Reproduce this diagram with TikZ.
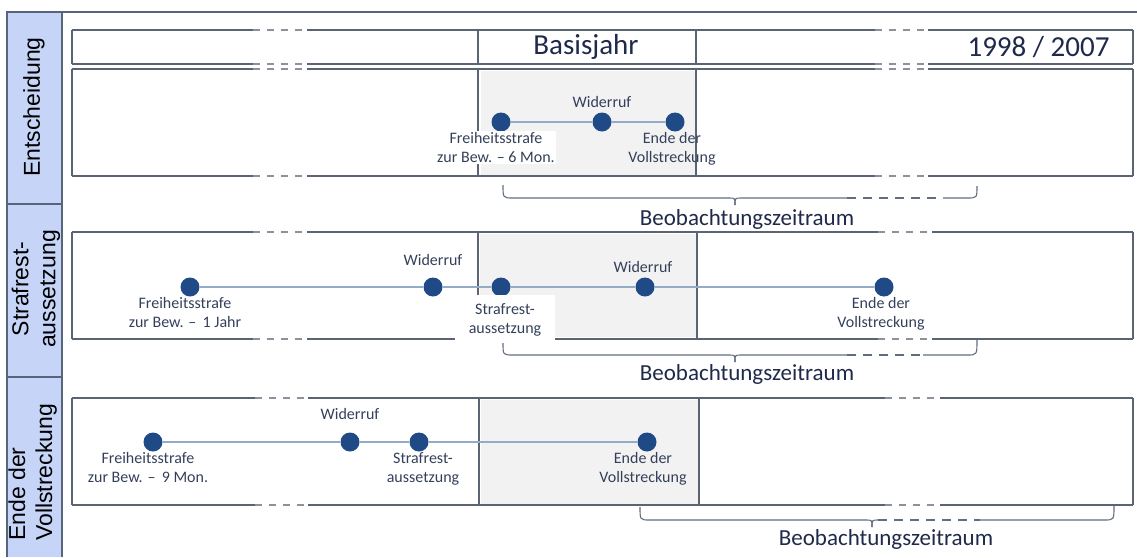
\documentclass[tikz,border=0pt]{standalone}
\usepackage{fontspec}
\setmainfont{Carlito}
\newfontfamily\arialf{Liberation Sans}
\definecolor{boxc}{HTML}{5A6472}
\definecolor{colfill}{HTML}{C6D4F7}
\definecolor{colline}{HTML}{56657A}
\definecolor{dotc}{HTML}{1F4A86}
\definecolor{connc}{HTML}{93ABC6}
\definecolor{labc}{HTML}{34405A}
\definecolor{headc}{HTML}{1F2A4A}
\definecolor{shadec}{HTML}{F2F2F2}
\definecolor{bracec}{HTML}{5F6D80}
\newcommand\obsbrace[8]{%
  \draw[bracel] (#1,#2) .. controls (#1,#3) .. (#1+10,#3) -- (#4-6,#3) .. controls (#4,#3) .. (#4,#3+7);
  \draw[bracel] (#4,#3+7) .. controls (#4,#3) .. (#4+6,#3) -- (#5,#3);
  \draw[bracel,dash pattern=on 9pt off 7pt] (#5,#3) -- (#6,#3);
  \draw[bracel] (#6,#3) -- (#7-10,#3) .. controls (#7,#3) .. (#7,#8);
}
\newcommand\gapline[5]{%
  \draw[boxl] (72,#1) -- (#2,#1);
  \draw[gapl] (#2,#1) -- (#3,#1);
  \draw[boxl] (#3,#1) -- (#4,#1);
  \draw[gapl] (#4,#1) -- (#5,#1);
  \draw[boxl] (#5,#1) -- (1133,#1);
}
\begin{document}
\begin{tikzpicture}[x=1pt,y=-1pt,
  boxl/.style={draw=boxc,line width=1.4pt},
  gapl/.style={draw=boxc!70,line width=1.4pt,dash pattern=on 7pt off 7pt},
  bracel/.style={draw=bracec,line width=1.1pt},
  dot/.style={circle,fill=dotc,minimum size=19pt,inner sep=0pt},
  conn/.style={draw=connc,line width=1.5pt},
  lab/.style={text=labc,font=\fontsize{16}{19}\selectfont,align=center,inner sep=1.5pt},
  labw/.style={lab,fill=white},
  obs/.style={text=headc,font=\fontsize{23}{26}\selectfont,inner sep=0pt},
  coltxt/.style={text=black,font=\arialf\fontsize{23}{27}\selectfont,rotate=90,inner sep=0pt}
]
\useasboundingbox (0,0) rectangle (1137,557);
% left column
\fill[colfill] (7,12) rectangle (62,557);
\draw[draw=colline,line width=1.5pt] (7,557) -- (7,12) -- (1137,12);
\draw[draw=colline,line width=1.5pt] (62,12) -- (62,557);
\draw[draw=colline,line width=1.5pt] (7,204) -- (62,204);
\draw[draw=colline,line width=1.5pt] (7,377) -- (62,377);
\node[coltxt] (c1) at (34,107) {Entscheidung};
\node[coltxt,align=center] (c2) at (36,289) {Strafrest-\\aussetzung};
\node[coltxt,align=left,anchor=south west] (c3) at (57,541) {Ende der\\Vollstreckung};

% shaded areas
\fill[shadec] (481,71) rectangle (695,175);
\fill[shadec] (480,234) rectangle (696,337);
\fill[shadec] (481,400) rectangle (698,504);

% row 1 header
\gapline{30}{253}{307}{875}{928}
\gapline{64}{253}{307}{875}{928}
\draw[boxl] (72,30) -- (72,64);
\draw[boxl] (1133,30) -- (1133,64);
\draw[boxl] (478,30) -- (478,64);
\draw[boxl] (696,30) -- (696,64);
\node[text=headc,font=\fontsize{29}{32}\selectfont] (basis) at (586,47) {Basisjahr};
\node[text=headc,font=\fontsize{29}{32}\selectfont,anchor=east] (years) at (1113,47) {1998 / 2007};

% row 1 box
\gapline{69}{253}{307}{875}{928}
\gapline{176}{253}{307}{875}{928}
\draw[boxl] (72,69) -- (72,176);
\draw[boxl] (1133,69) -- (1133,176);
\draw[boxl] (478,69) -- (478,176);
\draw[boxl] (696,69) -- (696,176);

% row 2 box
\gapline{232}{253}{307}{878}{932}
\gapline{339}{253}{307}{878}{932}
\draw[boxl] (72,232) -- (72,339);
\draw[boxl] (1133,232) -- (1133,339);
\draw[boxl] (478,232) -- (478,339);
\draw[boxl] (697,232) -- (697,339);

% row 3 box
\gapline{398}{255}{308}{885}{940}
\gapline{505}{255}{308}{885}{940}
\draw[boxl] (72,398) -- (72,505);
\draw[boxl] (1133,398) -- (1133,505);
\draw[boxl] (479,398) -- (479,505);
\draw[boxl] (699,398) -- (699,506);

% row 1 timeline
\node[dot] (a1) at (501,122) {};
\node[dot] (a2) at (602,122) {};
\node[dot] (a3) at (675,122) {};
\draw[conn] (a1) -- (a2) -- (a3);
\node[labw,anchor=north] (a1l) at (496,131) {Freiheitsstrafe\\zur Bew. -- 6 Mon.};
\node[lab,anchor=base] (a2l) at (602,107) {Widerruf};
\node[lab,anchor=north] (a3l) at (672,131) {Ende der\\Vollstreckung};

% row 2 timeline
\node[dot] (b1) at (190,287) {};
\node[dot] (b2) at (433,287) {};
\node[dot] (b3) at (501,287) {};
\node[dot] (b4) at (645,287) {};
\node[dot] (b5) at (884,287) {};
\draw[conn] (b1) -- (b2) -- (b3) -- (b4) -- (b5);
\node[lab,anchor=north] (b1l) at (185,296) {Freiheitsstrafe\\zur Bew. --\, 1 Jahr};
\node[lab,anchor=base] (b2l) at (433,265) {Widerruf};
\node[labw,anchor=north,minimum width=100pt,minimum height=50pt,inner sep=4pt] (b3l) at (505,295) {Strafrest-\\aussetzung};
\node[lab,anchor=base] (b4l) at (643,272) {Widerruf};
\node[lab,anchor=north] (b5l) at (881,296) {Ende der\\Vollstreckung};

% row 3 timeline
\node[dot] (d1) at (153,442) {};
\node[dot] (d2) at (350,442) {};
\node[dot] (d3) at (419,442) {};
\node[dot] (d4) at (647,442) {};
\draw[conn] (d1) -- (d2) -- (d3) -- (d4);
\node[lab,anchor=north] (d1l) at (148,451) {Freiheitsstrafe\\zur Bew. --\, 9 Mon.};
\node[lab,anchor=base] (d2l) at (350,419) {Widerruf};
\node[lab,anchor=north] (d3l) at (423,451) {Strafrest-\\aussetzung};
\node[lab,anchor=north] (d4l) at (643,451) {Ende der\\Vollstreckung};

% braces
\obsbrace{503}{185}{198}{735}{847}{943}{977}{186}
\node[obs,anchor=base] (o1) at (747,225) {Beobachtungszeitraum};
\obsbrace{503}{343}{355}{735}{847}{923}{977}{340}
\node[obs,anchor=base] (o2) at (747,380) {Beobachtungszeitraum};
\obsbrace{640}{507}{520}{872}{878}{980}{1114}{506}
\node[obs,anchor=base] (o3) at (886,545) {Beobachtungszeitraum};
\end{tikzpicture}
\end{document}
